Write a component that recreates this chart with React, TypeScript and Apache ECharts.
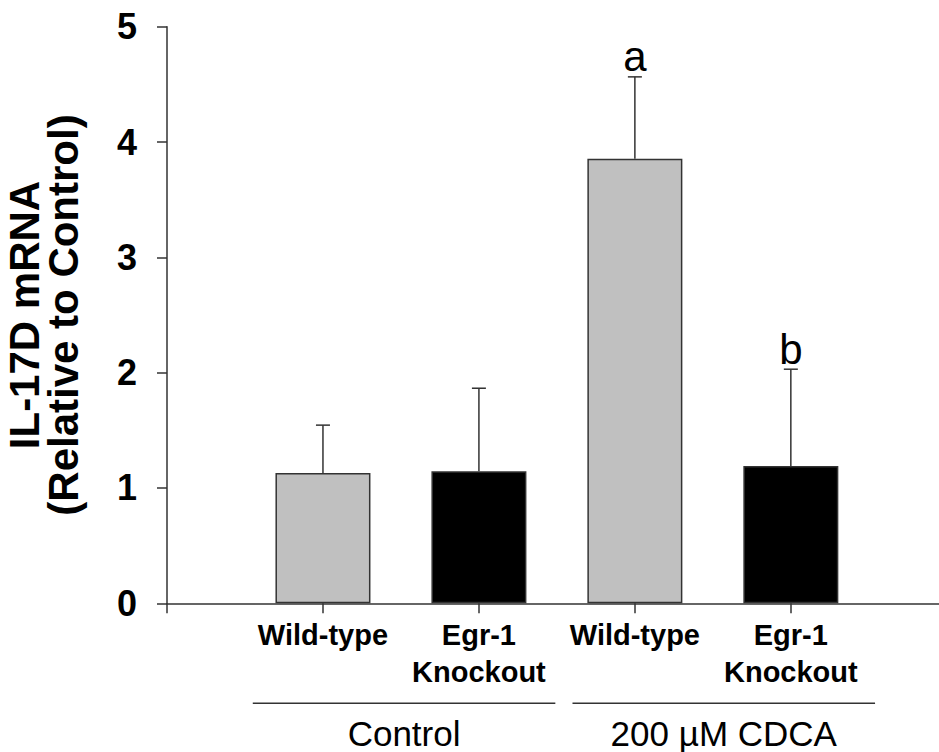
import React, { useEffect, useRef } from 'react';
import * as echarts from 'echarts';

const categories = ['Wild-type', 'Egr-1\nKnockout', 'Wild-type', 'Egr-1\nKnockout'];
const positions = [1, 2, 3, 4];
const means = [1.13, 1.145, 3.855, 1.19];
const errors = [0.415, 0.72, 0.71, 0.84];
const letters = ['', '', 'a', 'b'];
const barColors = ['#c0c0c0', '#000000', '#c0c0c0', '#000000'];
const groupNames = ['Control', '200 µM CDCA'];
const groupStarts = [0.55, 2.6];
const groupEnds = [2.49, 4.54];
const xTickValues = [0, 1, 2, 3, 4];

const FONT = '"Liberation Sans", Arial, sans-serif';
const AXIS_COLOR = '#333333';

export default function App() {
  const ref = useRef<HTMLDivElement>(null);

  useEffect(() => {
    if (!ref.current) return;
    const chart = echarts.init(ref.current, undefined, { renderer: 'svg' });

    const option: any = {
      animation: false,
      backgroundColor: '#ffffff',
      grid: {
        left: 167,
        right: 0,
        top: 26.7,
        bottom: 148.7,
        containLabel: false,
        outerBoundsMode: 'none',
      },
      xAxis: {
        type: 'value',
        min: 0,
        max: 4.95,
        interval: 1,
        splitLine: { show: false },
        axisLine: { show: true, lineStyle: { color: AXIS_COLOR, width: 1.5 } },
        axisTick: {
          show: true,
          length: 10,
          customValues: xTickValues,
          lineStyle: { color: AXIS_COLOR, width: 1.5 },
        },
        axisLabel: {
          customValues: positions,
          formatter: (v: number) => categories[Math.round(v) - 1] ?? '',
          fontFamily: FONT,
          fontWeight: 'bold',
          fontSize: 29,
          lineHeight: 37,
          color: '#000',
          margin: 13,
        },
      },
      yAxis: {
        type: 'value',
        min: 0,
        max: 5,
        interval: 1,
        splitLine: { show: false },
        axisLine: { show: true, lineStyle: { color: AXIS_COLOR, width: 1.5 } },
        axisTick: { show: true, length: 10, lineStyle: { color: AXIS_COLOR, width: 1.5 } },
        axisLabel: {
          fontFamily: FONT,
          fontWeight: 'bold',
          fontSize: 36,
          color: '#000',
          margin: 30,
        },
        name: 'IL-17D mRNA\n(Relative to Control)',
        nameLocation: 'middle',
        nameRotate: 90,
        nameGap: 84,
        nameTextStyle: {
          fontFamily: FONT,
          fontWeight: 'bold',
          fontSize: 42,
          lineHeight: 39,
          color: '#000',
        },
      },
      series: [
        {
          type: 'bar',
          barWidth: 95,
          data: positions.map((p, i) => ({
            value: [p, means[i]],
            itemStyle: { color: barColors[i] },
          })),
          itemStyle: { borderColor: AXIS_COLOR, borderWidth: 1.5 },
          z: 2,
        },
        {
          type: 'custom',
          clip: false,
          z: 3,
          encode: { x: 0, y: [1, 2] },
          data: positions.map((p, i) => [p, means[i], means[i] + errors[i], i]),
          renderItem: (params: any, api: any) => {
            const x = api.value(0);
            const base = api.coord([x, api.value(1)]);
            const top = api.coord([x, api.value(2)]);
            const idx = api.value(3);
            const style = { stroke: AXIS_COLOR, lineWidth: 1.5 };
            const children: any[] = [
              { type: 'line', shape: { x1: base[0], y1: base[1], x2: top[0], y2: top[1] }, style },
              { type: 'line', shape: { x1: top[0] - 7, y1: top[1], x2: top[0] + 7, y2: top[1] }, style },
            ];
            const letter = letters[idx];
            if (letter) {
              children.push({
                type: 'text',
                x: top[0],
                y: top[1] + 1,
                style: {
                  text: letter,
                  fontFamily: FONT,
                  fontSize: 42,
                  fill: '#000',
                  align: 'center',
                  verticalAlign: 'bottom',
                },
              });
            }
            return { type: 'group', children };
          },
        },
        {
          type: 'custom',
          clip: false,
          z: 3,
          encode: { x: [0, 1], y: 2 },
          data: groupNames.map((n, i) => [groupStarts[i], groupEnds[i], 0, i]),
          renderItem: (params: any, api: any) => {
            const s = api.coord([api.value(0), api.value(2)]);
            const e = api.coord([api.value(1), api.value(2)]);
            const idx = api.value(3);
            const lineY = s[1] + 100;
            return {
              type: 'group',
              children: [
                {
                  type: 'line',
                  shape: { x1: s[0], y1: lineY, x2: e[0], y2: lineY },
                  style: { stroke: AXIS_COLOR, lineWidth: 1.5 },
                },
                {
                  type: 'text',
                  x: (s[0] + e[0]) / 2,
                  y: lineY + 13,
                  style: {
                    text: groupNames[idx],
                    fontFamily: FONT,
                    fontSize: 35,
                    fill: '#000',
                    align: 'center',
                    verticalAlign: 'top',
                  },
                },
              ],
            };
          },
        },
      ],
    };

    chart.setOption(option);
    return () => chart.dispose();
  }, []);

  return (
    <div
      ref={ref}
      style={{ position: 'fixed', left: 0, top: 0, width: 939, height: 752, background: '#fff' }}
    />
  );
}
